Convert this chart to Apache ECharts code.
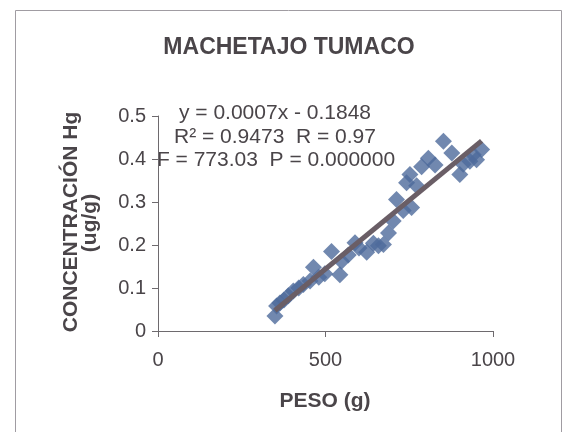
<!DOCTYPE html>
<html>
<head>
<meta charset="utf-8">
<script src="https://cdn.jsdelivr.net/npm/echarts@6/dist/echarts.min.js"></script>
<style>
  html, body { margin: 0; padding: 0; background: #ffffff; }
  #chart { width: 566px; height: 432px; }
</style>
</head>
<body>
<div id="chart"></div>
<script>
// Fish weight (g) and mercury concentration (ug/g)
const peso = [349, 354, 364, 376, 389, 404, 420, 434, 454, 464, 480, 498, 518, 543, 548,
              568, 588, 600, 623, 643, 658, 673, 688, 702, 712, 732, 742, 752, 757, 772,
              787, 807, 827, 852, 877, 901, 911, 931, 941, 951, 966];
const concentracion = [0.035, 0.058, 0.065, 0.072, 0.082, 0.093, 0.100, 0.108, 0.116, 0.148,
                       0.125, 0.133, 0.185, 0.131, 0.162, 0.177, 0.205, 0.193, 0.183, 0.204,
                       0.198, 0.201, 0.228, 0.256, 0.306, 0.280, 0.345, 0.364, 0.287, 0.338,
                       0.382, 0.402, 0.386, 0.441, 0.414, 0.364, 0.388, 0.395, 0.410, 0.398, 0.422];

const titulo = 'MACHETAJO TUMACO';
const tituloX = 'PESO (g)';
const tituloY = ['CONCENTRACIÓN Hg', '(ug/g)'];
const ecuacion = ['y = 0.0007x - 0.1848', 'R\u00B2 = 0.9473  R = 0.97', 'F = 773.03  P = 0.000000'];

const xTicks = [0, 500, 1000];
const yTicks = [0, 0.1, 0.2, 0.3, 0.4, 0.5];

// Least-squares trend line over the measured points
const n = peso.length;
let sx = 0, sy = 0, sxx = 0, sxy = 0;
for (let i = 0; i < n; i++) {
  sx += peso[i]; sy += concentracion[i];
  sxx += peso[i] * peso[i]; sxy += peso[i] * concentracion[i];
}
const pendiente = (n * sxy - sx * sy) / (n * sxx - sx * sx);
const intercepto = (sy - pendiente * sx) / n;
const xMin = Math.min(...peso), xMax = Math.max(...peso);
const tendencia = [[xMin, pendiente * xMin + intercepto], [xMax, pendiente * xMax + intercepto]];

const textColor = '#4a4549';
const axisColor = '#6e6a6e';

const chart = echarts.init(document.getElementById('chart'), null, { renderer: 'canvas' });
chart.setOption({
  backgroundColor: '#ffffff',
  animation: false,
  grid: { left: 158, right: 73, top: 116, bottom: 101, containLabel: false },
  xAxis: {
    type: 'value',
    min: xTicks[0], max: xTicks[xTicks.length - 1], interval: xTicks[1] - xTicks[0],
    axisLine: { show: true, lineStyle: { color: axisColor, width: 1 } },
    axisTick: { show: true, inside: false, length: 6, lineStyle: { color: axisColor } },
    axisLabel: { color: textColor, fontFamily: 'Liberation Sans', fontSize: 20, margin: 19,
                 formatter: v => String(v) },
    splitLine: { show: false }
  },
  yAxis: {
    type: 'value',
    min: yTicks[0], max: yTicks[yTicks.length - 1], interval: 0.1,
    axisLine: { show: true, lineStyle: { color: axisColor, width: 1 } },
    axisTick: { show: true, inside: false, length: 6, lineStyle: { color: axisColor } },
    axisLabel: { color: textColor, fontFamily: 'Liberation Sans', fontSize: 20, margin: 12,
                 formatter: v => (v === 0 ? '0' : v.toFixed(1)) },
    splitLine: { show: false }
  },
  series: [
    {
      type: 'scatter',
      data: peso.map((p, i) => [p, concentracion[i]]),
      symbol: 'diamond',
      symbolSize: 17,
      itemStyle: { color: '#4e6a9b' },
      z: 2
    },
    {
      type: 'line',
      data: tendencia,
      showSymbol: false,
      symbol: 'none',
      lineStyle: { color: '#6a5e66', width: 5 },
      z: 3
    }
  ],
  graphic: [
    { type: 'rect', shape: { x: 15.5, y: 10.5, width: 546, height: 440 },
      style: { fill: 'none', stroke: '#a09ca2', lineWidth: 1 }, silent: true },
    { type: 'text', x: 289, y: 48,
      style: { text: titulo, font: 'bold 23px "Liberation Sans"', fill: textColor,
               textAlign: 'center', textVerticalAlign: 'middle' } },
    { type: 'text', x: 325, y: 401,
      style: { text: tituloX, font: 'bold 21px "Liberation Sans"', fill: textColor,
               textAlign: 'center', textVerticalAlign: 'middle' } },
    { type: 'text', x: 71, y: 222, rotation: Math.PI / 2,
      style: { text: tituloY[0], font: 'bold 21px "Liberation Sans"', fill: textColor,
               textAlign: 'center', textVerticalAlign: 'middle' } },
    { type: 'text', x: 90, y: 223, rotation: Math.PI / 2,
      style: { text: tituloY[1], font: 'bold 21px "Liberation Sans"', fill: textColor,
               textAlign: 'center', textVerticalAlign: 'middle' } },
    { type: 'text', x: 275, y: 113,
      style: { text: ecuacion[0], font: '21px "Liberation Sans"', fill: textColor,
               textAlign: 'center', textVerticalAlign: 'middle' } },
    { type: 'text', x: 275, y: 137,
      style: { text: ecuacion[1], font: '21px "Liberation Sans"', fill: textColor,
               textAlign: 'center', textVerticalAlign: 'middle' } },
    { type: 'text', x: 276, y: 160,
      style: { text: ecuacion[2], font: '21px "Liberation Sans"', fill: textColor,
               textAlign: 'center', textVerticalAlign: 'middle' } }
  ]
});
</script>
</body>
</html>
